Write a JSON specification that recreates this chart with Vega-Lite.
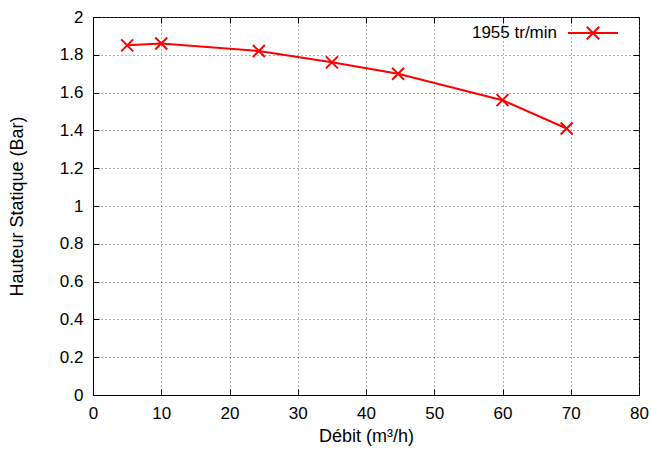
{
  "$schema": "https://vega.github.io/schema/vega-lite/v6.json",
  "width": 546,
  "height": 378,
  "autosize": {"type": "none"},
  "padding": {"left": 93, "top": 17, "right": 12, "bottom": 55},
  "background": "white",
  "config": {
    "font": "Liberation Sans",
    "view": {"stroke": "black", "strokeWidth": 1},
    "axis": {
      "labelFont": "Liberation Sans",
      "titleFont": "Liberation Sans",
      "labelFontSize": 17,
      "titleFontSize": 18,
      "titleFontWeight": "normal",
      "labelColor": "black",
      "titleColor": "black",
      "domainColor": "black",
      "tickColor": "black",
      "tickSize": -6,
      "gridColor": "#606060",
      "gridDash": [1, 3],
      "gridOpacity": 1,
      "gridWidth": 1
    },
    "legend": {"labelFont": "Liberation Sans", "labelFontSize": 17, "labelColor": "black"}
  },
  "data": {
    "values": [
      {"debit": 5, "hauteur": 1.85, "serie": "1955 tr/min"},
      {"debit": 10, "hauteur": 1.86, "serie": "1955 tr/min"},
      {"debit": 24.3, "hauteur": 1.82, "serie": "1955 tr/min"},
      {"debit": 35, "hauteur": 1.76, "serie": "1955 tr/min"},
      {"debit": 44.7, "hauteur": 1.7, "serie": "1955 tr/min"},
      {"debit": 60, "hauteur": 1.56, "serie": "1955 tr/min"},
      {"debit": 69.4, "hauteur": 1.41, "serie": "1955 tr/min"}
    ]
  },
  "layer": [
    {
      "mark": {"type": "line", "strokeWidth": 2},
      "encoding": {
        "x": {
          "field": "debit", "type": "quantitative",
          "scale": {"domain": [0, 80], "nice": false},
          "axis": {"values": [0,10,20,30,40,50,60,70,80], "title": "Débit (m³/h)", "labelPadding": 16, "titlePadding": 6, "labelFlush": false}
        },
        "y": {
          "field": "hauteur", "type": "quantitative",
          "scale": {"domain": [0, 2], "nice": false, "zero": true},
          "axis": {"values": [0,0.2,0.4,0.6,0.8,1,1.2,1.4,1.6,1.8,2], "format": "~g", "title": "Hauteur Statique (Bar)", "labelPadding": 16, "titlePadding": 33, "labelFlush": false}
        },
        "color": {
          "field": "serie", "type": "nominal",
          "scale": {"range": ["#ff0000"]},
          "legend": {
            "title": null,
            "orient": "none",
            "legendX": 474,
            "legendY": -10,
            "symbolType": "M-1,0L1,0M-0.25,-0.25L0.25,0.25M-0.25,0.25L0.25,-0.25",
            "symbolSize": 2500,
            "symbolStrokeWidth": 2,
            "symbolFillColor": "transparent",
            "labelAlign": "right",
            "labelOffset": -62
          }
        }
      }
    },
    {
      "mark": {"type": "point", "shape": "M-1,-1L1,1M-1,1L1,-1", "filled": false, "size": 144, "strokeWidth": 2, "color": "#ff0000", "opacity": 1},
      "encoding": {
        "x": {"field": "debit", "type": "quantitative", "axis": {"orient": "top", "values": [0,10,20,30,40,50,60,70,80], "labels": false, "grid": false, "domain": false, "title": null}},
        "y": {"field": "hauteur", "type": "quantitative", "axis": {"orient": "right", "values": [0,0.2,0.4,0.6,0.8,1,1.2,1.4,1.6,1.8,2], "labels": false, "grid": false, "domain": false, "title": null}}
      }
    }
  ],
  "resolve": {"axis": {"x": "independent", "y": "independent"}}
}
